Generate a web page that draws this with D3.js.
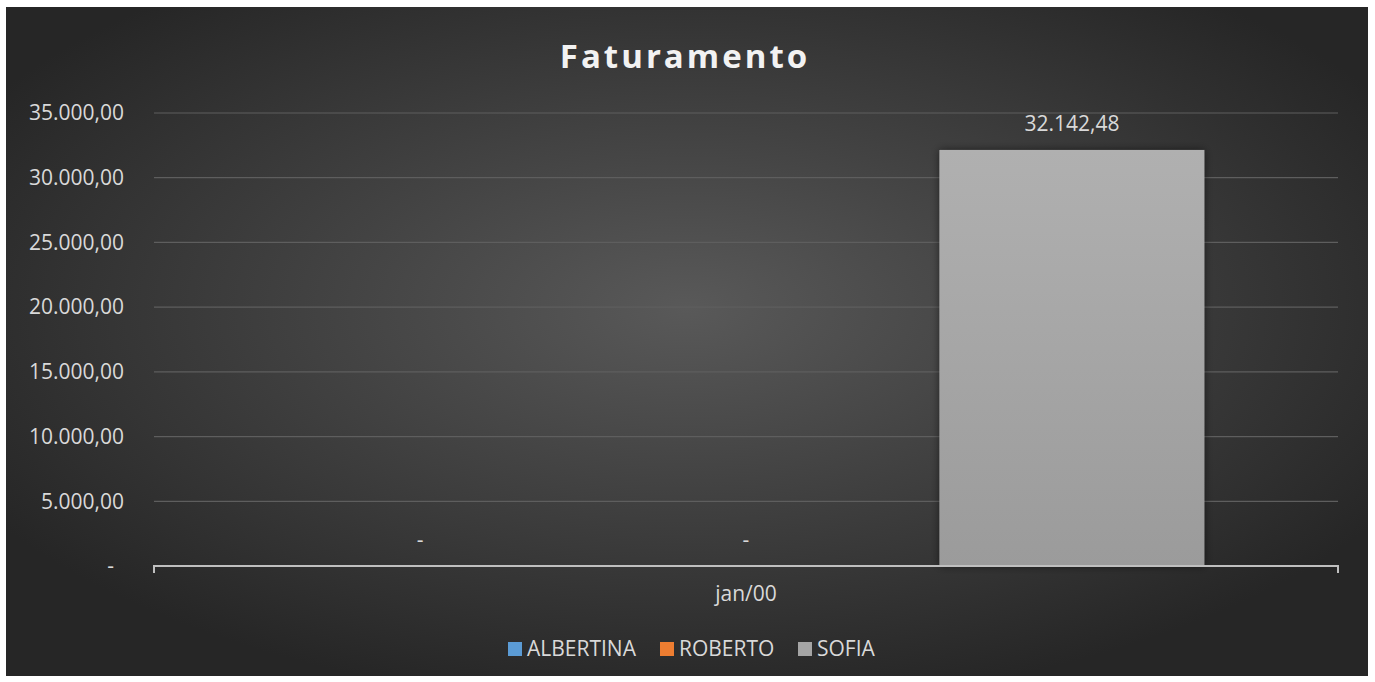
<!DOCTYPE html>
<html>
<head>
<meta charset="utf-8">
<script src="https://cdn.jsdelivr.net/npm/d3@7"></script>
<style>
  body { margin: 0; background: #fff; }
  text { font-family: "Open Sans", "Noto Sans", sans-serif; }
</style>
</head>
<body>
<div id="container"></div>
<script>
/* CONSTANTS AND GLOBALS */
const width = 1375,
  height = 682,
  margin = { top: 113, right: 37, bottom: 116, left: 154 },
  fontSize = "21px";

/* DATA */
const categories = ["jan/00"];
const series = ["ALBERTINA", "ROBERTO", "SOFIA"];
const values = [0, 0, 32142.48];
const colors = ["#5b9bd5", "#ed7d31", "#a5a5a5"];
const yTicks = [0, 5000, 10000, 15000, 20000, 25000, 30000, 35000];

const ptBR = d3.formatLocale({ decimal: ",", thousands: ".", grouping: [3], currency: ["", ""] });
const fmt = v => v === 0 ? "-" : ptBR.format(",.2f")(v);

const svg = d3.select("#container")
  .append("svg")
  .attr("width", width)
  .attr("height", height);

const defs = svg.append("defs");

const bg = defs.append("radialGradient")
  .attr("id", "bg")
  .attr("cx", "50%").attr("cy", "45%").attr("r", "60%");
bg.append("stop").attr("offset", "0%").attr("stop-color", "#595959");
bg.append("stop").attr("offset", "100%").attr("stop-color", "#262626");

const barGrad = defs.append("linearGradient")
  .attr("id", "barGrad")
  .attr("x1", 0).attr("y1", 0).attr("x2", 0).attr("y2", 1);
barGrad.append("stop").attr("offset", "0%").attr("stop-color", "#b0b0b0");
barGrad.append("stop").attr("offset", "100%").attr("stop-color", "#9b9b9b");

const shadow = defs.append("filter").attr("id", "shadow")
  .attr("x", "-10%").attr("y", "-10%").attr("width", "120%").attr("height", "120%");
shadow.append("feDropShadow")
  .attr("dx", 0).attr("dy", 0).attr("stdDeviation", 4)
  .attr("flood-color", "#000").attr("flood-opacity", 0.55);

// chart background
svg.append("rect")
  .attr("x", 6).attr("y", 7)
  .attr("width", 1362).attr("height", 669)
  .attr("fill", "url(#bg)");

/* SCALES */
const yScale = d3.scaleLinear()
  .domain([0, 35000])
  .range([height - margin.bottom, margin.top])

const x0 = d3.scaleBand()
  .domain(categories)
  .range([margin.left, width - margin.right])

const x1 = d3.scaleBand()
  .domain(series)
  .range([0, x0.bandwidth()])
  .paddingInner(0.187)
  .paddingOuter(0.41)

const colorScale = d3.scaleOrdinal(series, colors);

/* GRID */
svg.append("g")
  .selectAll("line")
  .data(yTicks.filter(d => d > 0))
  .join("line")
  .attr("x1", margin.left)
  .attr("x2", width - margin.right)
  .attr("y1", d => yScale(d))
  .attr("y2", d => yScale(d))
  .attr("stroke", "#5e5e5e")
  .attr("stroke-width", 1.2)

/* BARS */
const rows = series.map((s, i) => ({ cat: categories[0], series: s, value: values[i] }));

svg.append("g")
  .selectAll("rect")
  .data(rows.filter(d => d.value > 0))
  .join("rect")
  .attr("x", d => x0(d.cat) + x1(d.series))
  .attr("y", d => yScale(d.value))
  .attr("width", x1.bandwidth())
  .attr("height", d => yScale(0) - yScale(d.value))
  .attr("fill", d => d.series === "SOFIA" ? "url(#barGrad)" : colorScale(d.series))
  .attr("filter", "url(#shadow)")

// data labels
svg.append("g")
  .selectAll("text")
  .data(rows)
  .join("text")
  .attr("x", d => x0(d.cat) + x1(d.series) + x1.bandwidth() / 2)
  .attr("y", d => yScale(d.value) - 19)
  .attr("text-anchor", "middle")
  .attr("fill", "#d9d9d9")
  .style("font-size", fontSize)
  .text(d => fmt(d.value))

/* AXES */
const yAxis = svg.append("g")
  .attr("transform", `translate(${margin.left - 27},0)`)
  .call(d3.axisLeft(yScale).tickValues(yTicks).tickFormat(fmt).tickSize(0))
yAxis.select(".domain").remove()
yAxis.selectAll("text")
  .attr("fill", "#d9d9d9")
  .attr("dx", d => d === 0 ? -10 : 0)
  .style("font-size", fontSize)

const xAxis = svg.append("g")
  .attr("transform", `translate(0,${yScale(0)})`)
  .call(d3.axisBottom(x0).tickSize(0).tickPadding(20))
xAxis.select(".domain")
  .attr("stroke", "#bfbfbf")
  .attr("stroke-width", 2)
  .attr("d", `M${margin.left},7V0H${width - margin.right}V7`)
xAxis.selectAll("text")
  .attr("fill", "#d9d9d9")
  .style("font-size", fontSize)

/* TITLE */
svg.append("text")
  .attr("x", 685)
  .attr("y", 68)
  .attr("text-anchor", "middle")
  .attr("fill", "#f2f2f2")
  .style("font-size", "33px")
  .style("font-weight", "bold")
  .style("letter-spacing", "3px")
  .text("Faturamento")

/* LEGEND */
const legendX = [508, 660, 798];
const legend = svg.append("g")
  .selectAll("g")
  .data(series)
  .join("g")
  .attr("transform", (d, i) => `translate(${legendX[i]},642)`)
legend.append("rect")
  .attr("width", 14).attr("height", 14)
  .attr("fill", d => colorScale(d))
legend.append("text")
  .attr("x", 19).attr("y", 14)
  .attr("fill", "#d9d9d9")
  .style("font-size", fontSize)
  .text(d => d)
</script>
</body>
</html>
